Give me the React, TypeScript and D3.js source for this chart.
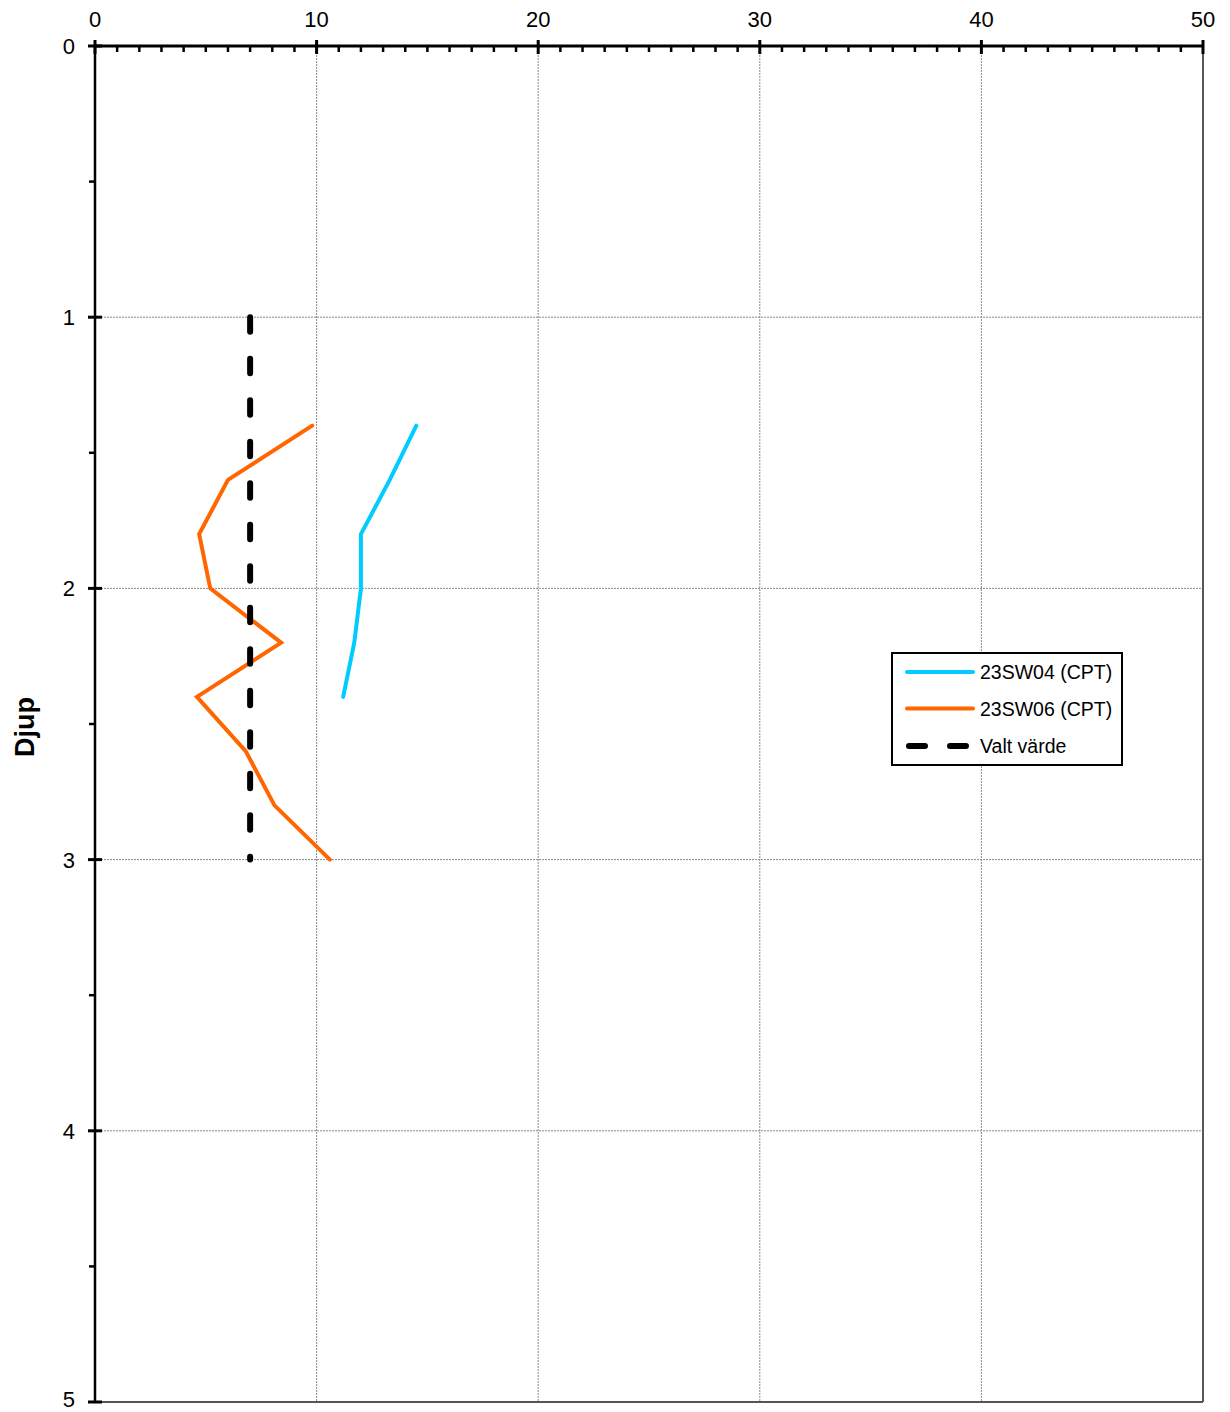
import React from "react";
import * as d3 from "d3";

const xTicks = [0, 10, 20, 30, 40, 50];
const yTicks = [0, 1, 2, 3, 4, 5];

const sw04Depth = [1.4, 1.6, 1.8, 2.0, 2.2, 2.4];
const sw04Value = [14.5, 13.3, 12.0, 12.0, 11.7, 11.2];

const sw06Depth = [1.4, 1.6, 1.8, 2.0, 2.2, 2.4, 2.6, 2.8, 3.0];
const sw06Value = [9.8, 6.0, 4.7, 5.2, 8.4, 4.6, 6.8, 8.1, 10.6];

const valtDepth = [1.0, 3.0];
const valtValue = [7.0, 7.0];

const legendLabels = ["23SW04 (CPT)", "23SW06 (CPT)", "Valt värde"];

const W = 1230;
const H = 1412;
const left = 95;
const right = 1203;
const top = 46;
const bottom = 1402;

export default function App() {
  const x = d3.scaleLinear().domain([0, 50]).range([left, right]);
  const y = d3.scaleLinear().domain([0, 5]).range([top, bottom]);
  const line = d3
    .line<[number, number]>()
    .x((d) => x(d[0]))
    .y((d) => y(d[1]));

  const sw04 = sw04Depth.map((d, i) => [sw04Value[i], d] as [number, number]);
  const sw06 = sw06Depth.map((d, i) => [sw06Value[i], d] as [number, number]);
  const valt = valtDepth.map((d, i) => [valtValue[i], d] as [number, number]);

  const minorX = d3.range(1, 50).filter((v) => v % 10 !== 0);
  const minorY = [0.5, 1.5, 2.5, 3.5, 4.5];
  const font = "'Liberation Sans', Arial, sans-serif";

  const legX = 892;
  const legY = 653;
  const legRows = [672, 708.5, 746];

  return (
    <svg
      width={W}
      height={H}
      style={{ position: "absolute", left: 0, top: 0, background: "#fff" }}
      fontFamily={font}
    >
      {/* gridlines */}
      {xTicks.slice(1, 5).map((t) => (
        <line
          key={"gx" + t}
          x1={x(t)}
          x2={x(t)}
          y1={top}
          y2={bottom}
          stroke="#8c8c8c"
          strokeWidth={1}
          strokeDasharray="2,1"
        />
      ))}
      {yTicks.slice(1, 5).map((t) => (
        <line
          key={"gy" + t}
          x1={left}
          x2={right}
          y1={y(t)}
          y2={y(t)}
          stroke="#8c8c8c"
          strokeWidth={1}
          strokeDasharray="2,1"
        />
      ))}
      {/* right and bottom border */}
      <line x1={right} x2={right} y1={top} y2={bottom} stroke="#222" strokeWidth={1.5} />
      <line x1={left} x2={right} y1={bottom} y2={bottom} stroke="#555" strokeWidth={1.8} />

      {/* series */}
      <path d={line(sw04) || ""} fill="none" stroke="#00CCFF" strokeWidth={4} strokeLinecap="round" strokeLinejoin="round" />
      <path d={line(sw06) || ""} fill="none" stroke="#FF6600" strokeWidth={4} strokeLinecap="round" strokeLinejoin="miter" />
      <path
        d={line(valt) || ""}
        fill="none"
        stroke="#000"
        strokeWidth={6}
        strokeLinecap="round"
        strokeDasharray="14.5,27"
      />

      {/* axes */}
      <line x1={left} x2={left} y1={top} y2={bottom} stroke="#000" strokeWidth={2.5} />
      <line x1={left - 1} x2={right + 1} y1={top} y2={top} stroke="#000" strokeWidth={3} />
      {minorX.map((t) => (
        <line key={"mx" + t} x1={x(t)} x2={x(t)} y1={top} y2={top + 6} stroke="#000" strokeWidth={2.5} />
      ))}
      {xTicks.map((t) => (
        <line key={"tx" + t} x1={x(t)} x2={x(t)} y1={top - 6} y2={top + 8} stroke="#000" strokeWidth={3} />
      ))}
      {minorY.map((t) => (
        <line key={"my" + t} x1={left - 6} x2={left} y1={y(t)} y2={y(t)} stroke="#000" strokeWidth={2.5} />
      ))}
      {yTicks.map((t) => (
        <line key={"ty" + t} x1={left - 7} x2={left + 7} y1={y(t)} y2={y(t)} stroke="#000" strokeWidth={3} />
      ))}

      {/* tick labels */}
      {xTicks.map((t) => (
        <text key={"lx" + t} x={x(t)} y={27} textAnchor="middle" fontSize={22} fill="#000">
          {t}
        </text>
      ))}
      {yTicks.map((t) => (
        <text key={"ly" + t} x={75} y={Math.min(y(t), 1399)} dy="0.36em" textAnchor="end" fontSize={22} fill="#000">
          {t}
        </text>
      ))}

      <text
        transform={`translate(34,727) rotate(-90)`}
        textAnchor="middle"
        fontSize={27}
        fontWeight="bold"
        fill="#000"
      >
        Djup
      </text>

      {/* legend */}
      <rect x={legX} y={legY} width={230} height={112} fill="#fff" stroke="#000" strokeWidth={2} />
      <line x1={907} x2={973} y1={legRows[0]} y2={legRows[0]} stroke="#00CCFF" strokeWidth={4} strokeLinecap="round" />
      <line x1={907} x2={973} y1={legRows[1]} y2={legRows[1]} stroke="#FF6600" strokeWidth={4} strokeLinecap="round" />
      <line
        x1={909}
        x2={966}
        y1={legRows[2]}
        y2={legRows[2]}
        stroke="#000"
        strokeWidth={6}
        strokeLinecap="round"
        strokeDasharray="16,25"
      />
      {legendLabels.map((l, i) => (
        <text key={l} x={980} y={legRows[i]} dy="0.36em" fontSize={19.5} fill="#000">
          {l}
        </text>
      ))}
    </svg>
  );
}
